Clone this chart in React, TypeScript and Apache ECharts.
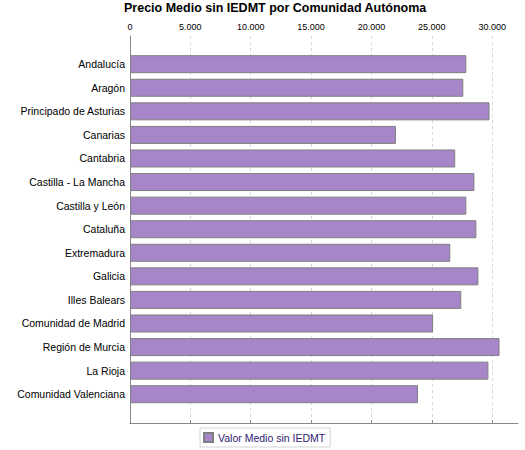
import React, { useEffect, useRef } from 'react';
import * as echarts from 'echarts';

const regions = [
    'Andalucía',
    'Aragón',
    'Principado de Asturias',
    'Canarias',
    'Cantabria',
    'Castilla - La Mancha',
    'Castilla y León',
    'Cataluña',
    'Extremadura',
    'Galicia',
    'Illes Balears',
    'Comunidad de Madrid',
    'Región de Murcia',
    'La Rioja',
    'Comunidad Valenciana'
];

const avgPrice = [
    27860, 27610, 29780, 22030, 26940, 28530, 27860, 28690,
    26530, 28860, 27440, 25110, 30610, 29690, 23860
];

const seriesName = 'Valor Medio sin IEDMT';
const xMax = 32140;
const xStep = 5000;

const FONT = '"Liberation Sans", Arial, sans-serif';

const fmt = (v: number) => String(Math.round(v)).replace(/\B(?=(\d{3})+(?!\d))/g, '.');

const App: React.FC = () => {
    const chartRef = useRef<HTMLDivElement>(null);

    useEffect(() => {
        if (!chartRef.current) return;
        const chart = echarts.init(chartRef.current, null, { renderer: 'svg' });

        const option = {
            animation: false,
            textStyle: { fontFamily: FONT },
            title: {
                text: 'Precio Medio sin IEDMT por Comunidad Autónoma',
                left: 124,
                top: 1,
                padding: 0,
                textStyle: { fontFamily: FONT, fontSize: 12.5, fontWeight: 'bold', color: '#000' }
            },
            legend: {
                data: [seriesName],
                left: 200,
                top: 428,
                padding: [4, 5, 4, 3],
                itemWidth: 9,
                itemHeight: 9,
                icon: 'rect',
                borderColor: '#d4d4d4',
                borderWidth: 1,
                textStyle: { fontFamily: FONT, fontSize: 10.5, color: '#2e1a70' }
            },
            grid: [
                { left: 130, right: 7, top: 36, bottom: 27 },
                { left: 130, right: 7, top: 52.4, bottom: 44 }
            ],
            xAxis: [
                {
                    type: 'value',
                    gridIndex: 0,
                    position: 'top',
                    min: 0,
                    max: xMax,
                    interval: xStep,
                    axisLine: { show: true, lineStyle: { color: '#888' } },
                    axisTick: { show: true, length: 3, lineStyle: { color: '#888' } },
                    axisLabel: {
                        fontFamily: FONT,
                        fontSize: 9,
                        color: '#000',
                        margin: 5,
                        showMaxLabel: false,
                        formatter: (v: number) => (v % xStep === 0 ? fmt(v) : '')
                    },
                    splitLine: {
                        show: true,
                        showMinLine: false,
                        showMaxLine: false,
                        lineStyle: { color: '#d8d8d8', type: [3, 3] }
                    }
                },
                {
                    type: 'value',
                    gridIndex: 1,
                    min: 0,
                    max: xMax,
                    show: false
                }
            ],
            yAxis: [
                {
                    type: 'value',
                    gridIndex: 0,
                    min: 0,
                    max: 1,
                    axisLine: { show: true, lineStyle: { color: '#888' } },
                    axisTick: { show: false },
                    axisLabel: { show: false },
                    splitLine: { show: false }
                },
                {
                    type: 'category',
                    gridIndex: 1,
                    inverse: true,
                    data: regions,
                    axisLine: { show: false },
                    axisTick: { show: false },
                    axisLabel: { fontFamily: FONT, fontSize: 10.5, color: '#000', margin: 5 }
                }
            ],
            series: [
                {
                    name: seriesName,
                    type: 'bar',
                    xAxisIndex: 1,
                    yAxisIndex: 1,
                    data: avgPrice,
                    barWidth: 18,
                    itemStyle: { color: '#a686c9', borderColor: '#7f7f7f', borderWidth: 1 }
                }
            ]
        };

        chart.setOption(option);
        return () => chart.dispose();
    }, []);

    return (
        <div
            ref={chartRef}
            style={{ position: 'fixed', left: 0, top: 0, width: 525, height: 450, background: '#fff' }}
        />
    );
};

export default App;
